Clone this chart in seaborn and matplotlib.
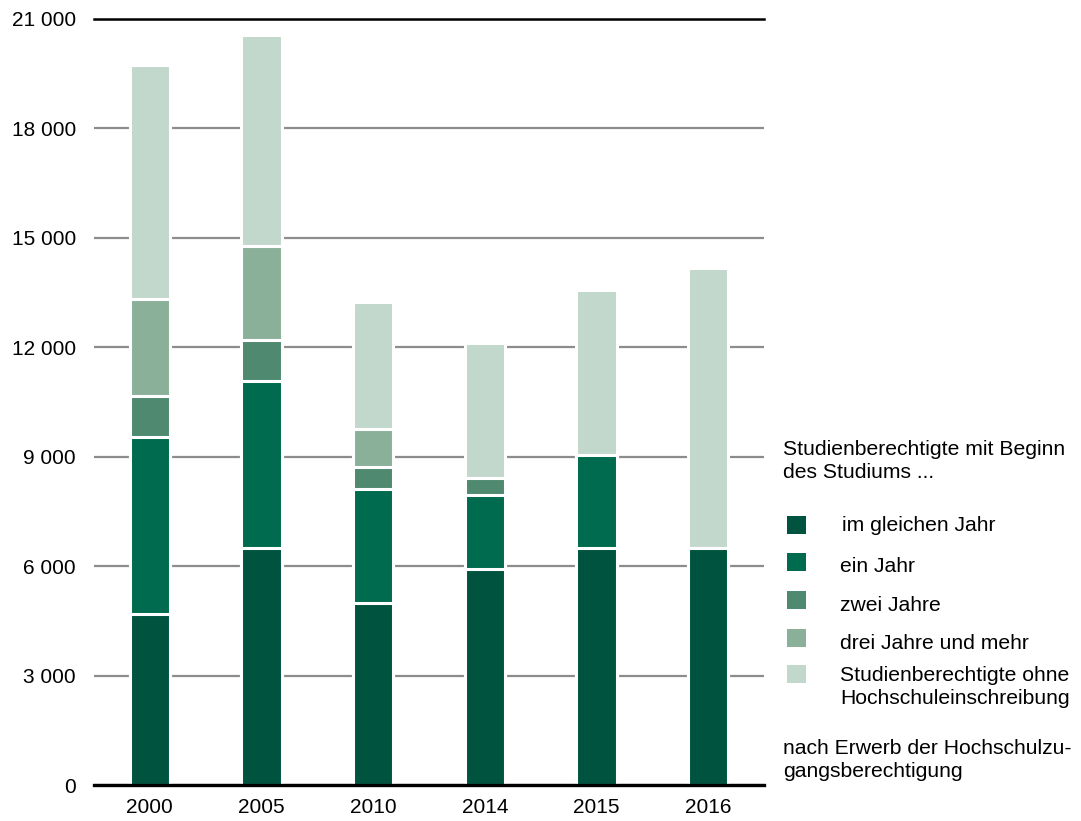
import numpy as np
import pandas as pd
import matplotlib
matplotlib.use("Agg")
import matplotlib.pyplot as plt
from matplotlib.patches import Rectangle
import seaborn as sns

years = ["2000", "2005", "2010", "2014", "2015", "2016"]
im_gleichen_jahr = [4700, 6500, 5000, 5920, 6500, 6500]
ein_jahr = [4850, 4580, 3120, 2030, 2550, 0]
zwei_jahre = [1120, 1120, 600, 460, 0, 0]
drei_jahre = [2660, 2580, 1040, 0, 0, 0]
ohne_einschreibung = [6420, 5780, 3480, 3700, 4520, 7670]

series_names = ["im gleichen Jahr", "ein Jahr", "zwei Jahre", "drei Jahre und mehr",
                "Studienberechtigte ohne\nHochschuleinschreibung"]
colors = ["#00543F", "#006B4E", "#4F8A70", "#8BB09A", "#C3D8CC"]

yticks = [0, 3000, 6000, 9000, 12000, 15000, 18000, 21000]
ytick_labels = ["0", "3 000", "6 000", "9 000", "12 000", "15 000", "18 000", "21 000"]

legend_title = "Studienberechtigte mit Beginn\ndes Studiums ..."
legend_footer = "nach Erwerb der Hochschulzu-\ngangsberechtigung"

sns.set_theme(style="white")
plt.rcParams["font.family"] = ["Liberation Sans", "DejaVu Sans"]

df = pd.DataFrame({
    "year": years,
    "s0": im_gleichen_jahr,
    "s1": ein_jahr,
    "s2": zwei_jahre,
    "s3": drei_jahre,
    "s4": ohne_einschreibung,
})
cols = ["s0", "s1", "s2", "s3", "s4"]
cum = df[cols].cumsum(axis=1)

fig = plt.figure(figsize=(10.81, 8.21), dpi=100)
ax = fig.add_axes([94 / 1081, 36 / 821, (764 - 94) / 1081, (785 - 19) / 821])

# Draw cumulative totals from top layer downward so each segment covers the next
for i in range(len(cols) - 1, -1, -1):
    d = pd.DataFrame({"year": years, "val": cum[cols[i]].values})
    sns.barplot(data=d, x="year", y="val", order=years, color=colors[i],
                saturation=1, width=0.36, edgecolor="white", linewidth=2.2,
                ax=ax, zorder=3, errorbar=None)

ax.set_xlim(-0.5, len(years) - 0.5)
ax.set_ylim(0, 21000)
ax.set_yticks(yticks)
ax.set_yticklabels(ytick_labels)
ax.set_xlabel("")
ax.set_ylabel("")
ax.yaxis.grid(True, color="#8c8c8c", linewidth=1.6)
ax.xaxis.grid(False)
ax.set_axisbelow(True)
for s in ["left", "right"]:
    ax.spines[s].set_visible(False)
ax.spines["top"].set_color("black")
ax.spines["top"].set_linewidth(1.8)
ax.spines["bottom"].set_color("black")
ax.spines["bottom"].set_linewidth(2.4)
ax.spines["bottom"].set_zorder(6)
ax.spines["top"].set_zorder(6)
ax.tick_params(axis="y", length=0, pad=13, labelsize=15, labelcolor="black")
ax.tick_params(axis="x", length=0, pad=9, labelsize=15, labelcolor="black")

W, H = 1081, 821
def fx(px):
    return px / W
def fy(py):
    return 1 - py / H

FS = 15.2
LS = 1.3
fig.text(fx(783), fy(461), legend_title, fontsize=FS, va="center", ha="left",
         linespacing=LS, color="black")

patch_centers = [525, 562, 600, 638, 674]
text_pos = [(842, 525), (840, 567), (840, 605), (840, 643), (840, 687)]
for c, name, pc, (tx, ty) in zip(colors, series_names, patch_centers, text_pos):
    fig.patches.append(Rectangle((fx(787), fy(pc + 9)), 19 / W, 18 / H,
                                 transform=fig.transFigure, facecolor=c,
                                 edgecolor="none"))
    fig.text(fx(tx), fy(ty), name, fontsize=FS, va="center", ha="left",
             linespacing=LS, color="black")

fig.text(fx(783), fy(760), legend_footer, fontsize=FS, va="center", ha="left",
         linespacing=LS, color="black")

fig.savefig("out.png", dpi=100, facecolor="white")
